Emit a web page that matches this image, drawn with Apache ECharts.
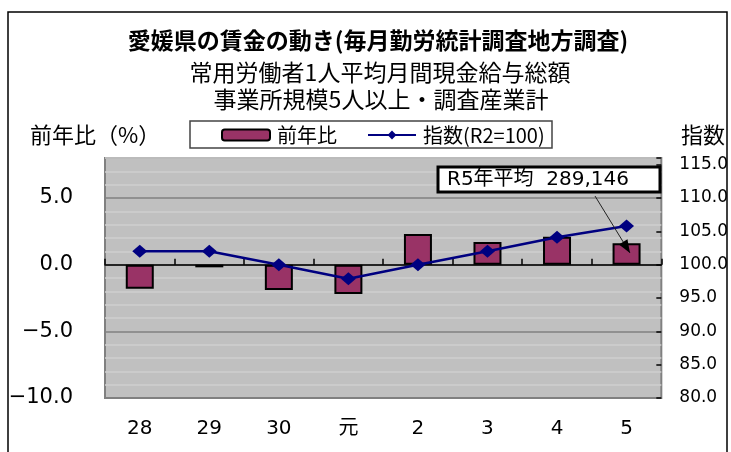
<!DOCTYPE html>
<html>
<head>
<meta charset="utf-8">
<script src="https://cdn.jsdelivr.net/npm/echarts@6/dist/echarts.min.js"></script>
<style>
  html, body { margin: 0; padding: 0; background: #fff; }
  #chart { width: 731px; height: 452px; }
</style>
</head>
<body>
<div id="chart"></div>
<script>
// 年（平成28年～令和5年）
const categories = ['28', '29', '30', '元', '2', '3', '4', '5'];
// 現金給与総額 前年比（%）
const yoyChange = [-1.8, -0.2, -1.9, -2.2, 2.3, 1.7, 2.1, 1.6];
// 現金給与総額 指数（令和2年=100）
const wageIndex = [102.0, 102.0, 100.0, 97.9, 100.0, 102.0, 104.1, 105.8];
// 軸の範囲
const leftRange = [-10, 8];
const rightRange = [80, 116];
const labelStep = 5;

const FONT_JP = '"Noto Sans CJK JP", sans-serif';
const FONT_NUM = '"DejaVu Sans", "Noto Sans CJK JP", sans-serif';

const chart = echarts.init(document.getElementById('chart'), null, { renderer: 'canvas' });

// 矢印（注記ボックスから最新年の棒へ）
const arrowFrom = [595, 196];
const arrowTo = [630, 253];
function arrowHead(from, to, len, half) {
  const dx = to[0] - from[0], dy = to[1] - from[1];
  const d = Math.hypot(dx, dy);
  const ux = dx / d, uy = dy / d;
  const bx = to[0] - ux * len, by = to[1] - uy * len;
  return [[to[0], to[1]], [bx - uy * half, by + ux * half], [bx + uy * half, by - ux * half]];
}

const option = {
  animation: false,
  backgroundColor: '#ffffff',
  title: [
    {
      text: '愛媛県の賃金の動き(毎月勤労統計調査地方調査)',
      left: 378, top: 29, textAlign: 'center', padding: 0,
      textStyle: { fontFamily: FONT_JP, fontSize: 23, fontWeight: 'bold', color: '#000' }
    },
    {
      text: '常用労働者1人平均月間現金給与総額',
      left: 380, top: 61, textAlign: 'center', padding: 0,
      textStyle: { fontFamily: FONT_JP, fontSize: 23, fontWeight: 'normal', color: '#000' }
    },
    {
      text: '事業所規模5人以上・調査産業計',
      left: 381, top: 88, textAlign: 'center', padding: 0,
      textStyle: { fontFamily: FONT_JP, fontSize: 23, fontWeight: 'normal', color: '#000' }
    },
    {
      text: '前年比（%）',
      left: 30, top: 124, padding: 0,
      textStyle: { fontFamily: FONT_JP, fontSize: 22, fontWeight: 'normal', color: '#000' }
    },
    {
      text: '指数',
      left: 681, top: 124, padding: 0,
      textStyle: { fontFamily: FONT_JP, fontSize: 22, fontWeight: 'normal', color: '#000' }
    }
  ],
  legend: {
    left: 221, top: 125, padding: 0,
    itemWidth: 48, itemHeight: 11, itemGap: 30,
    data: ['前年比', '指数(R2=100)'],
    textStyle: { fontFamily: FONT_JP, fontSize: 20, color: '#000', padding: [0, 0, 0, 2] }
  },
  grid: {
    left: 105, right: 68, top: 158, bottom: 54,
    show: true, backgroundColor: '#c0c0c0', borderColor: '#808080', borderWidth: 2
  },
  xAxis: [
    {
      type: 'category', data: categories, position: 'bottom',
      axisLine: { show: false, onZero: false },
      axisTick: { show: false },
      splitLine: { show: false },
      axisLabel: { margin: 21, fontSize: 20, color: '#000', fontFamily: FONT_NUM }
    },
    {
      type: 'category', data: categories, position: 'bottom',
      axisLine: { show: true, onZero: true, lineStyle: { color: '#000', width: 1.5 } },
      axisTick: { show: true, inside: true, length: 6, lineStyle: { color: '#000', width: 1.5 } },
      axisLabel: { show: false },
      splitLine: { show: false }
    }
  ],
  yAxis: [
    {
      type: 'value', min: leftRange[0], max: leftRange[1], interval: 1, position: 'left',
      axisLine: { show: false }, axisTick: { show: false },
      axisLabel: {
        margin: 32, fontSize: 21, color: '#000', fontFamily: FONT_NUM,
        formatter: v => (v % labelStep === 0 ? v.toFixed(1).replace('-', '−') : '')
      },
      splitLine: {
        show: true,
        lineStyle: { color: ['#808080', '#cfcfcf', '#cfcfcf', '#cfcfcf', '#cfcfcf'], width: 1.5 }
      }
    },
    {
      type: 'value', min: rightRange[0], max: rightRange[1], interval: labelStep, position: 'right',
      axisLine: { show: false },
      axisTick: { show: true, inside: true, length: 5, lineStyle: { color: '#000', width: 1.5 } },
      axisLabel: {
        margin: 18, fontSize: 17, color: '#000', fontFamily: FONT_NUM,
        formatter: v => (v % labelStep === 0 ? v.toFixed(1) : '')
      },
      splitLine: { show: false }
    }
  ],
  series: [
    {
      name: '前年比', type: 'bar', data: yoyChange,
      xAxisIndex: 0, yAxisIndex: 0, barWidth: 28,
      itemStyle: { color: '#993366', borderColor: '#000', borderWidth: 2 },
      z: 3
    },
    {
      name: '指数(R2=100)', type: 'line', data: wageIndex,
      xAxisIndex: 0, yAxisIndex: 1,
      symbol: 'diamond', symbolSize: [15, 13],
      lineStyle: { color: '#000080', width: 2.5 },
      itemStyle: { color: '#000080' },
      z: 4
    }
  ],
  graphic: [
    // 外枠
    { type: 'rect', z: -10, shape: { x: 8, y: 12, width: 719, height: 470 },
      style: { fill: 'none', stroke: '#000', lineWidth: 1.5 } },
    // 凡例の枠
    { type: 'rect', z: 0, shape: { x: 190, y: 121, width: 362, height: 27 },
      style: { fill: '#fff', stroke: '#444', lineWidth: 1.5 } },
    // 注記
    { type: 'rect', z: 20, shape: { x: 438, y: 167, width: 222, height: 25 },
      style: { fill: '#fff', stroke: '#000', lineWidth: 3 } },
    { type: 'text', z: 21, x: 447, y: 180,
      style: { text: 'R5年平均  289,146', fill: '#000', font: '20px "DejaVu Sans", "Noto Sans CJK JP", sans-serif',
        verticalAlign: 'middle' } },
    { type: 'line', z: 20, shape: { x1: arrowFrom[0], y1: arrowFrom[1], x2: arrowTo[0], y2: arrowTo[1] },
      style: { stroke: '#222', lineWidth: 1 } },
    { type: 'polygon', z: 20, shape: { points: arrowHead(arrowFrom, arrowTo, 13, 5) },
      style: { fill: '#000' } }
  ]
};

chart.setOption(option);
</script>
</body>
</html>
